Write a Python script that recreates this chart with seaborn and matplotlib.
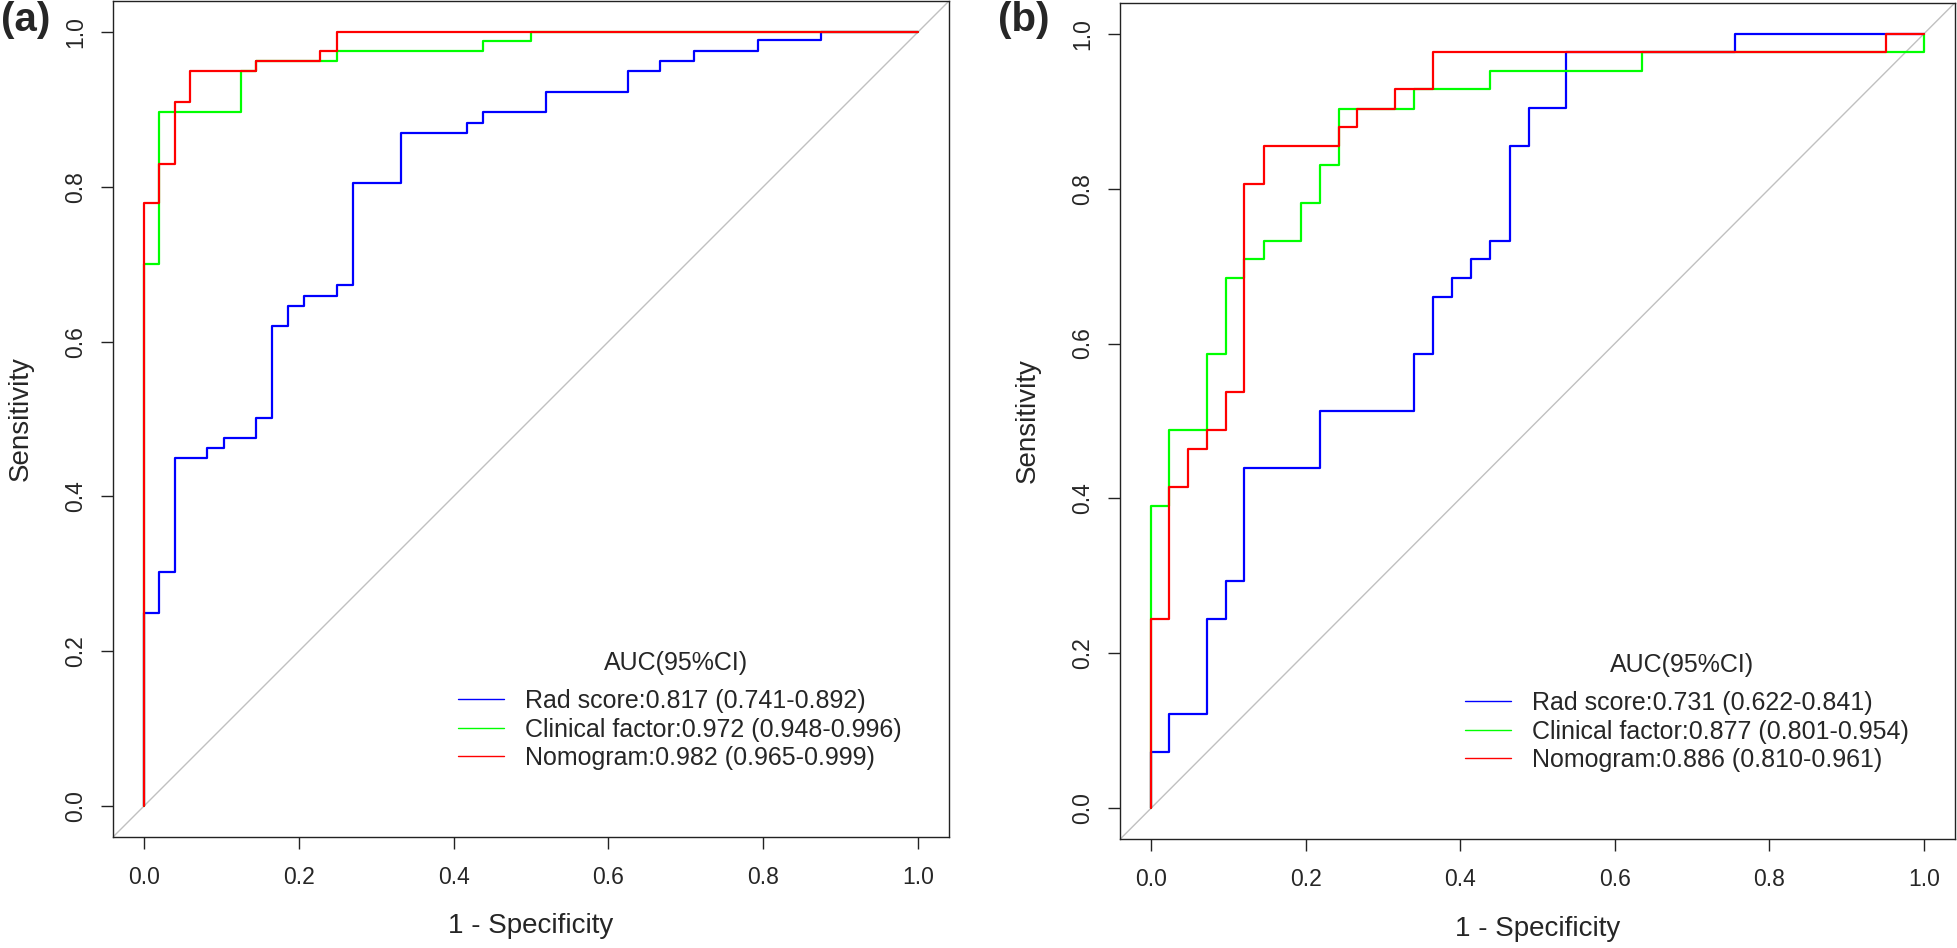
import numpy as np
import pandas as pd
import matplotlib
matplotlib.use("Agg")
import matplotlib.pyplot as plt
import seaborn as sns

# ROC step corners (1 - specificity, sensitivity)
# panel (a)
a_rad_fpr = [0, 0.020, 0.040, 0.082, 0.103, 0.145, 0.166, 0.186, 0.207, 0.249, 0.270,
             0.332, 0.417, 0.438, 0.520, 0.625, 0.667, 0.710, 0.793, 0.875, 1.000]
a_rad_tpr = [0, 0.250, 0.302, 0.449, 0.462, 0.475, 0.501, 0.620, 0.646, 0.659, 0.673,
             0.805, 0.869, 0.883, 0.897, 0.923, 0.950, 0.963, 0.976, 0.989, 1.000]
a_cli_fpr = [0, 0.020, 0.125, 0.145, 0.249, 0.438, 0.500, 1.000]
a_cli_tpr = [0, 0.700, 0.897, 0.949, 0.962, 0.975, 0.988, 1.000]
a_nom_fpr = [0, 0.020, 0.040, 0.060, 0.145, 0.228, 0.249, 1.000]
a_nom_tpr = [0, 0.779, 0.830, 0.910, 0.949, 0.962, 0.975, 1.000]

# panel (b)
b_rad_fpr = [0, 0.024, 0.073, 0.097, 0.121, 0.219, 0.340, 0.365, 0.389, 0.414, 0.438,
             0.464, 0.489, 0.537, 0.756, 1.000]
b_rad_tpr = [0, 0.073, 0.122, 0.244, 0.293, 0.439, 0.513, 0.587, 0.660, 0.685, 0.709,
             0.733, 0.855, 0.904, 0.976, 1.000]
b_cli_fpr = [0, 0.024, 0.073, 0.097, 0.120, 0.146, 0.194, 0.219, 0.243, 0.340, 0.438,
             0.635, 1.000, 1.000]
b_cli_tpr = [0, 0.390, 0.488, 0.586, 0.684, 0.709, 0.733, 0.782, 0.830, 0.903, 0.928,
             0.952, 0.976, 1.000]
b_nom_fpr = [0, 0.024, 0.048, 0.072, 0.097, 0.121, 0.146, 0.243, 0.267, 0.316, 0.365,
             0.951, 1.000]
b_nom_tpr = [0, 0.244, 0.415, 0.464, 0.489, 0.538, 0.806, 0.855, 0.879, 0.903, 0.928,
             0.976, 1.000]

models = ["Rad score", "Clinical factor", "Nomogram"]
a_auc = ["0.817 (0.741-0.892)", "0.972 (0.948-0.996)", "0.982 (0.965-0.999)"]
b_auc = ["0.731 (0.622-0.841)", "0.877 (0.801-0.954)", "0.886 (0.810-0.961)"]
colors = ["#0000FF", "#00FF00", "#FF0000"]
ticks = [0.0, 0.2, 0.4, 0.6, 0.8, 1.0]

sns.set_style("ticks")
plt.rcParams["font.family"] = ["Liberation Sans", "DejaVu Sans"]


def make_df(curves, aucs):
    rows = []
    for name, auc, (fpr, tpr) in zip(models, aucs, curves):
        label = f"{name}:{auc}"
        for i, (x, y) in enumerate(zip(fpr, tpr)):
            rows.append({"fpr": x, "tpr": y, "model": label, "order": i})
    return pd.DataFrame(rows)


def draw_panel(ax, df):
    ax.axline((0, 0), (1, 1), color="#c0c0c0", lw=1.0, zorder=1)
    labels = list(dict.fromkeys(df["model"]))
    sns.lineplot(data=df, x="fpr", y="tpr", hue="model", hue_order=labels,
                 palette=dict(zip(labels, colors)), sort=False, estimator=None,
                 drawstyle="steps-pre", lw=1.6, ax=ax, zorder=3)
    ax.set_xlim(-0.04, 1.04)
    ax.set_ylim(-0.04, 1.04)
    ax.set_xticks(ticks)
    ax.set_yticks(ticks)
    ax.set_xticklabels([f"{t:.1f}" for t in ticks])
    ax.set_yticklabels([f"{t:.1f}" for t in ticks], rotation=90, va="center")
    ax.tick_params(axis="x", length=8.6, width=1, pad=12, labelsize=16.5, color="#222222")
    ax.tick_params(axis="y", length=8.6, width=1, pad=10, labelsize=16.5, color="#222222")
    for s in ax.spines.values():
        s.set_visible(True)
        s.set_color("#222222")
        s.set_linewidth(1.0)
    ax.set_xlabel("1 - Specificity", fontsize=20)
    ax.set_ylabel("Sensitivity", fontsize=20)
    ax.xaxis.label.set_va("center")
    ax.yaxis.label.set_va("center")
    ax.xaxis.set_label_coords(0.5, -0.107)
    ax.yaxis.set_label_coords(-0.11, 0.5)

    sns.move_legend(ax, "upper left", bbox_to_anchor=(0.413, 0.177), title=None,
                    frameon=False, fontsize=18, handlelength=1.84, handletextpad=0.84,
                    labelspacing=0.18, borderpad=0, borderaxespad=0)
    for h in ax.get_legend().get_lines():
        h.set_linewidth(1.0)
    ax.text(0.687, 0.185, "AUC(95%CI)", fontsize=18, ha="center", va="center",
            transform=ax.transData)


fig = plt.figure(figsize=(19.58, 9.48), dpi=100)
ax_a = fig.add_axes([113 / 1958, 111 / 948, 836 / 1958, 836 / 948])
ax_b = fig.add_axes([1120 / 1958, 108.7 / 948, 835 / 1958, 836.6 / 948])

df_a = make_df([(a_rad_fpr, a_rad_tpr), (a_cli_fpr, a_cli_tpr), (a_nom_fpr, a_nom_tpr)], a_auc)
df_b = make_df([(b_rad_fpr, b_rad_tpr), (b_cli_fpr, b_cli_tpr), (b_nom_fpr, b_nom_tpr)], b_auc)

draw_panel(ax_a, df_a)
draw_panel(ax_b, df_b)

fig.text(1 / 1958, 1 - 1 / 948, "(a)", fontsize=29, fontweight="bold", ha="left", va="top")
fig.text(998 / 1958, 1 - 1 / 948, "(b)", fontsize=29, fontweight="bold", ha="left", va="top")

fig.savefig("out.png", dpi=100)
